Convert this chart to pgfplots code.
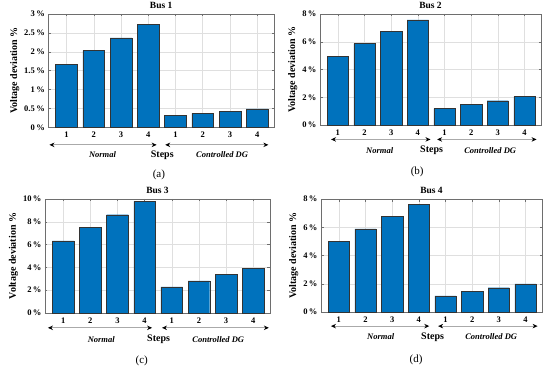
\documentclass[border=0pt]{standalone}
\usepackage{pgfplots}
\pgfplotsset{compat=1.18}
\usepackage{fontspec}
\setmainfont{Liberation Serif}
\usetikzlibrary{arrows.meta}
\definecolor{mblue}{RGB}{0,114,189}
\definecolor{frame}{RGB}{110,110,110}
\definecolor{arrgray}{RGB}{170,170,170}
\pgfplotsset{
  panel/.style={
    scale only axis,
    anchor=south west,
    xmin=0.33, xmax=8.62,
    ymin=0,
    xtick={1,...,8},
    xticklabels={1,2,3,4,1,2,3,4},
    ybar, bar width=0.8,
    bar shift=0pt,
    grid=major,
    major grid style={gray!25, line width=0.4pt},
    axis line style={frame, line width=0.5pt},
    tick style={frame, line width=0.4pt},
    tick align=inside,
    major tick length=2.5pt,
    xtick pos=both, ytick pos=both,
    /pgf/number format/assume math mode=true,
    tick label style={font=\fontsize{8.5}{9}\selectfont\bfseries},
    xticklabel style={yshift=-1pt},
    yticklabel={\pgfmathprintnumber{\tick}\,\%},
    title style={font=\fontsize{9.5}{10}\selectfont\bfseries, yshift=-4pt},
    ylabel={Voltage deviation \%},
    ylabel style={font=\fontsize{10}{11}\selectfont\bfseries, yshift=-2pt},
    clip=false,
  },
  bars/.style={fill=mblue, draw=black!80, line width=0.4pt},
}
\newcommand{\underparts}[9]{%
  \draw[arrgray, line width=1pt, {Stealth[black,length=5pt,width=4.5pt]}-{Stealth[black,length=5pt,width=4.5pt]}]
    (axis description cs:#3,#1) -- (axis description cs:#4,#1);
  \draw[arrgray, line width=1pt, {Stealth[black,length=5pt,width=4.5pt]}-{Stealth[black,length=5pt,width=4.5pt]}]
    (axis description cs:#5,#1) -- (axis description cs:#6,#1);
  \node[font=\fontsize{8.5}{9}\selectfont\bfseries\itshape] at (axis description cs:#7,#2) {Normal};
  \node[font=\fontsize{10}{11}\selectfont\bfseries] at (axis description cs:0.505,#2) {Steps};
  \node[font=\fontsize{8.5}{9}\selectfont\bfseries\itshape] at (axis description cs:0.77,#2) {Controlled DG};
  \node[font=\fontsize{11}{12}\selectfont] at (axis description cs:#8,-0.42) {#9};
}
\begin{document}
\begin{tikzpicture}
\path[use as bounding box] (0,0) rectangle (550pt,372pt);
% (a)
\begin{axis}[panel, at={(48.3pt,244.7pt)}, width=225.7pt, height=113.3pt,
  ymax=3, ytick={0,0.5,1,1.5,2,2.5,3}, title={Bus 1}]
\addplot[bars] coordinates {(1,1.67) (2,2.03) (3,2.37) (4,2.72) (5,0.31) (6,0.37) (7,0.43) (8,0.49)};
\underparts{-0.155}{-0.245}{0.005}{0.48}{0.518}{0.975}{0.24}{0.49}{(a)}
\end{axis}
% (b)
\begin{axis}[panel, at={(320pt,247pt)}, width=221pt, height=111pt,
  ymax=8, ytick={0,2,4,6,8}, title={Bus 2}]
\addplot[bars] coordinates {(1,4.97) (2,5.86) (3,6.73) (4,7.57) (5,1.18) (6,1.47) (7,1.75) (8,2.04)};
\underparts{-0.13}{-0.23}{0.05}{0.50}{0.53}{0.98}{0.27}{0.44}{(b)}
\end{axis}
% (c)
\begin{axis}[panel, at={(45pt,59pt)}, width=225pt, height=114pt,
  ymax=10, ytick={0,2,4,6,8,10}, title={Bus 3}]
\addplot[bars] coordinates {(1,6.32) (2,7.50) (3,8.62) (4,9.79) (5,2.29) (6,2.82) (7,3.38) (8,3.91)};
\underparts{-0.13}{-0.23}{0.013}{0.476}{0.52}{0.995}{0.25}{0.43}{(c)}
\end{axis}
% (d)
\begin{axis}[panel, at={(321pt,60pt)}, width=221pt, height=113pt,
  ymax=8, ytick={0,2,4,6,8}, title={Bus 4}]
\addplot[bars] coordinates {(1,4.99) (2,5.88) (3,6.78) (4,7.60) (5,1.15) (6,1.44) (7,1.72) (8,2.00)};
\underparts{-0.125}{-0.22}{0.045}{0.49}{0.53}{0.98}{0.27}{0.43}{(d)}
\end{axis}
\end{tikzpicture}
\end{document}
